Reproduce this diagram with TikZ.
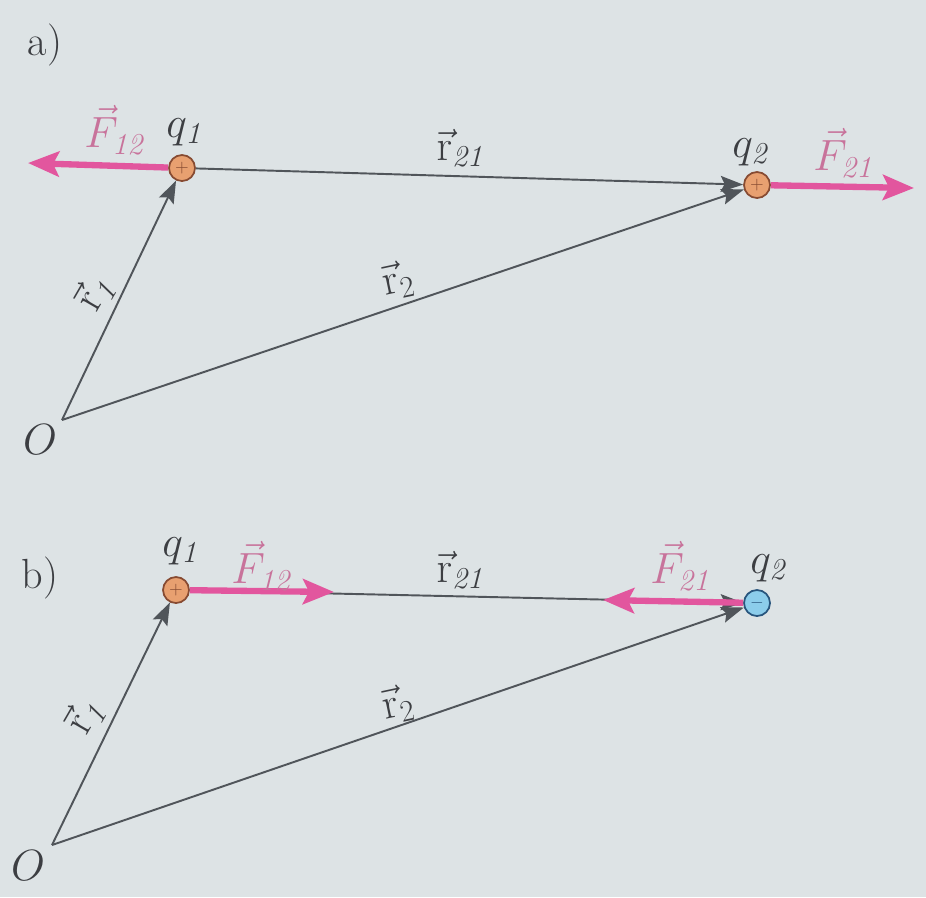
\documentclass[tikz,border=0pt]{standalone}
\usepackage{tikz}
\usetikzlibrary{arrows.meta}
\definecolor{PaperGrey}{RGB}{221,227,229}
\definecolor{LineGrey}{RGB}{80,85,90}
\definecolor{ForcePink}{RGB}{226,86,158}
\definecolor{LabelPink}{RGB}{200,115,155}
\definecolor{ChargeOrange}{RGB}{232,160,112}
\definecolor{ChargeBrown}{RGB}{135,75,50}
\definecolor{ChargeBlue}{RGB}{140,205,235}
\definecolor{ChargeNavy}{RGB}{40,85,125}
\definecolor{TextGrey}{RGB}{60,62,66}

\begin{document}
\begin{tikzpicture}[x=0.02cm,y=-0.02cm,
    posvec/.style={draw=LineGrey,line width=1.1pt,-{Stealth[length=0.45cm,width=0.32cm,inset=0.08cm]}},
    force/.style={draw=ForcePink,line width=3.6pt,-{Stealth[length=0.62cm,width=0.5cm,inset=0.12cm]}},
    poscharge/.style={circle,draw=ChargeBrown,fill=ChargeOrange,line width=1pt,minimum size=0.52cm,inner sep=0pt,text=ChargeBrown,font=\normalsize},
    negcharge/.style={circle,draw=ChargeNavy,fill=ChargeBlue,line width=1pt,minimum size=0.52cm,inner sep=0pt,text=ChargeNavy,font=\normalsize},
    vlabel/.style={text=TextGrey,font=\fontsize{24}{28}\selectfont},
    flabel/.style={text=LabelPink,font=\fontsize{24}{28}\selectfont}]
        \useasboundingbox (0,0) rectangle (926,897);
        \fill[PaperGrey] (0,0) rectangle (926,897);
        % Panel a: two positive charges
        \node[vlabel] (taga) at (45,45) {a)};
        \coordinate (Oa) at (62,420);
        \node[poscharge] (q1a) at (182,168) {$+$};
        \node[poscharge] (q2a) at (757,185) {$+$};
        \coordinate (F12a) at (28,163);
        \coordinate (F21a) at (914,188);
        \draw[posvec] (Oa) -- (q1a);
        \draw[posvec] (Oa) -- (q2a);
        \draw[posvec] (q1a) -- (q2a);
        \draw[force] (q1a) -- (F12a);
        \draw[force] (q2a) -- (F21a);
        \node[vlabel] (Oatext) at (40,440) {$O$};
        \node[vlabel] (q1atext) at (186,132) {$q_{\mathit{1}}$};
        \node[vlabel] (q2atext) at (752,152) {$q_{\mathit{2}}$};
        \node[flabel] (F12atext) at (116,130) {$\vec{F}_{\mathit{12}}$};
        \node[flabel] (F21atext) at (845,153) {$\vec{F}_{\mathit{21}}$};
        \node[vlabel] (r21atext) at (462,148) {$\vec{\mathrm{r}}_{\mathit{21}}$};
        \node[vlabel,rotate=60] (r1atext) at (95,292) {$\vec{\mathrm{r}}_{\mathit{1}}$};
        \node[vlabel,rotate=12] (r2atext) at (398,280) {$\vec{\mathrm{r}}_{2}$};
        % Panel b: positive and negative charge
        \node[vlabel] (tagb) at (40,578) {b)};
        \coordinate (Ob) at (52,845);
        \node[poscharge] (q1b) at (176,590) {$+$};
        \node[negcharge] (q2b) at (757,603) {$-$};
        \coordinate (F12b) at (334,592);
        \coordinate (F21b) at (603,600);
        \draw[posvec] (Ob) -- (q1b);
        \draw[posvec] (Ob) -- (q2b);
        \draw[posvec] (q1b) -- (q2b);
        \draw[force] (q1b) -- (F12b);
        \draw[force] (q2b) -- (F21b);
        \node[vlabel] (Obtext) at (28,866) {$O$};
        \node[vlabel] (q1btext) at (182,551) {$q_{\mathit{1}}$};
        \node[vlabel] (q2btext) at (770,568) {$q_{\mathit{2}}$};
        \node[flabel] (F12btext) at (263,566) {$\vec{F}_{\mathit{12}}$};
        \node[flabel] (F21btext) at (682,566) {$\vec{F}_{\mathit{21}}$};
        \node[vlabel] (r21btext) at (462,570) {$\vec{\mathrm{r}}_{\mathit{21}}$};
        \node[vlabel,rotate=60] (r1btext) at (85,715) {$\vec{\mathrm{r}}_{\mathit{1}}$};
        \node[vlabel,rotate=12] (r2btext) at (398,704) {$\vec{\mathrm{r}}_{2}$};
    \end{tikzpicture}
\end{document}
